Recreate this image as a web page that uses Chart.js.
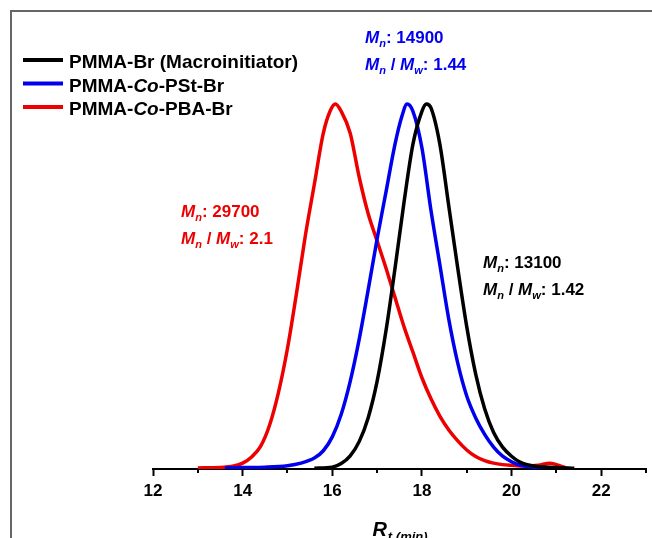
<!DOCTYPE html>
<html lang="en">
<head>
<meta charset="UTF-8">
<title>GPC traces</title>
<script src="https://cdn.jsdelivr.net/npm/chart.js"></script>
<style>
  body { margin: 0; background: #fff; }
  #wrap { position: relative; width: 652px; height: 538px; overflow: hidden; }
  #frame { position: absolute; left: 10px; top: 10px; right: -4px; bottom: -4px;
           border-top: 2px solid #666; border-left: 2px solid #666; pointer-events: none; }
</style>
</head>
<body>
<div id="wrap">
  <canvas id="gpc" width="652" height="538"></canvas>
  <div id="frame"></div>
</div>
<script>
// ---- data ----
const seriesNames = ['PMMA-Br (Macroinitiator)', 'PMMA-*Co*-PSt-Br', 'PMMA-*Co*-PBA-Br'];
const seriesColors = ['#000000', '#0000ee', '#ee0000'];
const mnValues = ['13100', '14900', '29700'];
const dispersity = ['1.42', '1.44', '2.1'];
const xTicks = [12, 14, 16, 18, 20, 22];
const minorTicks = [13, 15, 17, 19, 21, 23];

const blackT = [15.6, 16.0, 16.2, 16.4, 16.6, 16.8, 17.0, 17.2, 17.4, 17.6, 17.8, 18.0, 18.1, 18.2, 18.4, 18.6, 18.8, 19.0, 19.2, 19.4, 19.6, 19.8, 20.0, 20.2, 20.5, 21.0, 21.4];
const blackY = [0.002, 0.005, 0.015, 0.036, 0.075, 0.14, 0.24, 0.38, 0.55, 0.73, 0.89, 0.98, 1.0, 0.99, 0.89, 0.72, 0.55, 0.39, 0.26, 0.165, 0.10, 0.06, 0.035, 0.018, 0.008, 0.004, 0.002];

const blueT = [13.6, 14.0, 14.5, 15.0, 15.3, 15.6, 15.8, 16.0, 16.2, 16.4, 16.6, 16.8, 17.0, 17.2, 17.4, 17.55, 17.67, 17.8, 18.0, 18.2, 18.4, 18.6, 18.8, 19.0, 19.2, 19.4, 19.6, 19.8, 20.0, 20.2, 20.5, 21.0];
const blueY = [0.003, 0.004, 0.005, 0.009, 0.016, 0.03, 0.05, 0.088, 0.15, 0.24, 0.355, 0.49, 0.63, 0.76, 0.89, 0.965, 1.0, 0.98, 0.88, 0.71, 0.56, 0.41, 0.29, 0.20, 0.14, 0.095, 0.06, 0.035, 0.02, 0.01, 0.005, 0.003];

const redT = [13.0, 13.5, 13.8, 14.0, 14.2, 14.4, 14.6, 14.8, 15.0, 15.2, 15.4, 15.6, 15.8, 15.95, 16.07, 16.2, 16.4, 16.6, 16.8, 17.0, 17.2, 17.4, 17.6, 17.8, 18.0, 18.2, 18.4, 18.6, 18.8, 19.0, 19.2, 19.4, 19.6, 19.8, 20.0, 20.3, 20.6, 20.85, 21.0, 21.2];
const redY = [0.003, 0.004, 0.008, 0.016, 0.033, 0.062, 0.12, 0.21, 0.33, 0.48, 0.64, 0.78, 0.92, 0.98, 1.0, 0.98, 0.92, 0.80, 0.70, 0.625, 0.55, 0.47, 0.39, 0.32, 0.25, 0.193, 0.145, 0.107, 0.077, 0.052, 0.034, 0.023, 0.016, 0.012, 0.01, 0.008, 0.01, 0.016, 0.012, 0.004];

const FONT = "'Liberation Sans', Arial, sans-serif";

function pts(ts, ys) {
  return ts.map((t, i) => ({ x: t, y: ys[i] }));
}

// draw a run of text pieces, some italic / subscript
function drawRich(ctx, x, y, parts, size, color) {
  let cx = x;
  ctx.fillStyle = color;
  ctx.textBaseline = 'alphabetic';
  ctx.textAlign = 'left';
  for (const p of parts) {
    const sz = p.sub ? size * 0.65 : size;
    ctx.font = (p.italic ? 'italic ' : '') + 'bold ' + sz + 'px ' + FONT;
    ctx.fillText(p.t, cx, y + (p.sub ? size * 0.25 : 0));
    cx += ctx.measureText(p.t).width;
  }
  return cx - x;
}

function measureRich(ctx, parts, size) {
  let w = 0;
  for (const p of parts) {
    const sz = p.sub ? size * 0.65 : size;
    ctx.font = (p.italic ? 'italic ' : '') + 'bold ' + sz + 'px ' + FONT;
    w += ctx.measureText(p.t).width;
  }
  return w;
}

// "*Co*" -> italic piece
function parseName(name) {
  return name.split('*').map((s, i) => ({ t: s, italic: i % 2 === 1 })).filter(p => p.t);
}

const decorations = {
  id: 'decorations',
  afterDraw(chart) {
    const ctx = chart.ctx;
    const xs = chart.scales.x;
    const bottom = chart.chartArea.bottom;
    ctx.save();

    // minor ticks
    ctx.strokeStyle = '#000';
    ctx.lineWidth = 2;
    minorTicks.forEach(v => {
      const px = Math.round(xs.getPixelForValue(v));
      ctx.beginPath();
      ctx.moveTo(px, bottom);
      ctx.lineTo(px, bottom + 4);
      ctx.stroke();
    });

    // legend
    seriesNames.forEach((name, i) => {
      const base = 68 + i * 23.5;
      ctx.strokeStyle = seriesColors[i];
      ctx.lineWidth = 4;
      ctx.beginPath();
      ctx.moveTo(23, base - 8);
      ctx.lineTo(63, base - 8);
      ctx.stroke();
      drawRich(ctx, 69, base, parseName(name), 19, '#000');
    });

    // Mn / dispersity notes
    const notePos = [[483, 268], [365, 43], [181, 217]];
    mnValues.forEach((mn, i) => {
      const [x, y] = notePos[i];
      const col = seriesColors[i];
      drawRich(ctx, x, y, [
        { t: 'M', italic: true }, { t: 'n', italic: true, sub: true }, { t: ': ' + mn }
      ], 17, col);
      drawRich(ctx, x, y + 27, [
        { t: 'M', italic: true }, { t: 'n', italic: true, sub: true }, { t: ' / ' },
        { t: 'M', italic: true }, { t: 'w', italic: true, sub: true }, { t: ': ' + dispersity[i] }
      ], 17, col);
    });

    // axis title R_t (min)
    const title = [{ t: 'R', italic: true }, { t: 't (min)', italic: true, sub: true }];
    const tw = measureRich(ctx, title, 20);
    const cxm = (chart.chartArea.left + chart.chartArea.right) / 2;
    ctx.fillStyle = '#000';
    ctx.font = 'italic bold 20px ' + FONT;
    ctx.fillText('R', cxm - tw / 2, 536);
    const rw = ctx.measureText('R').width;
    ctx.font = 'italic bold 13px ' + FONT;
    ctx.fillText('t (min)', cxm - tw / 2 + rw + 1, 541);

    ctx.restore();
  }
};

const ctx = document.getElementById('gpc').getContext('2d');
new Chart(ctx, {
  type: 'line',
  data: {
    datasets: [
      { data: pts(blackT, blackY), borderColor: seriesColors[0] },
      { data: pts(blueT, blueY), borderColor: seriesColors[1] },
      { data: pts(redT, redY), borderColor: seriesColors[2] }
    ].map(d => Object.assign(d, {
      borderWidth: 3.5, pointRadius: 0, fill: false, cubicInterpolationMode: 'monotone'
    }))
  },
  options: {
    responsive: false,
    animation: false,
    layout: { padding: { left: 153, right: 6, top: 31, bottom: 0 } },
    plugins: { legend: { display: false }, tooltip: { enabled: false } },
    scales: {
      x: {
        type: 'linear', min: 12, max: 23,
        ticks: {
          stepSize: 1, autoSkip: false, maxRotation: 0, padding: 5, color: '#000',
          font: { family: FONT, size: 17, weight: 'bold' },
          callback: v => xTicks.includes(v) ? String(v) : ''
        },
        grid: {
          drawOnChartArea: false, tickLength: 7, tickWidth: 2,
          tickColor: c => (c.tick && xTicks.includes(c.tick.value)) ? '#000' : 'rgba(0,0,0,0)'
        },
        border: { display: true, color: '#000', width: 2 },
        afterFit: s => { s.height = 69; }
      },
      y: { display: false, min: 0, max: 1.2 }
    }
  },
  plugins: [decorations]
});
</script>
</body>
</html>
